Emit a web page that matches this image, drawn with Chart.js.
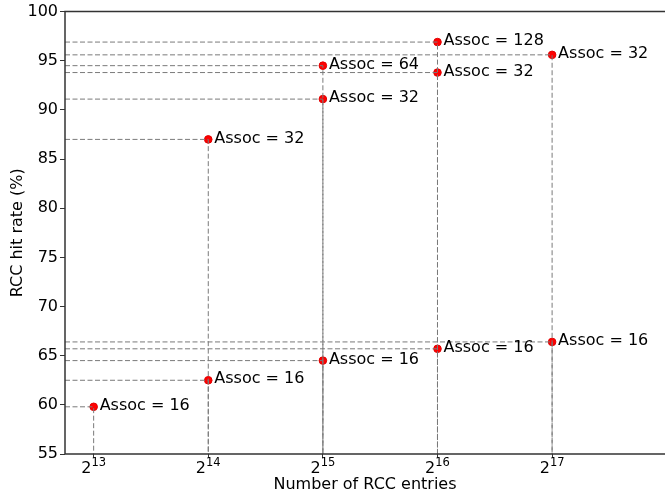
<!DOCTYPE html>
<html>
<head>
<meta charset="utf-8">
<script src="https://cdn.jsdelivr.net/npm/chart.js@4"></script>
<style>
  html, body { margin: 0; padding: 0; background: #fff; overflow: hidden; }
  canvas { display: block; }
</style>
</head>
<body>
<canvas id="rcc" width="665" height="494"></canvas>
<script>
// RCC size sweep: each point = (entries, hit rate, associativity)
const entries = [8192, 16384, 32768, 65536, 131072, 16384, 32768, 32768, 65536, 65536, 131072];
const hitRate = [59.8, 62.5, 64.5, 65.7, 66.4, 87.0, 91.1, 94.5, 96.9, 93.8, 95.6];
const assoc   = [16, 16, 16, 16, 16, 32, 32, 64, 128, 32, 32];
const xTicks  = [8192, 16384, 32768, 65536, 131072];
const yTicks  = [55, 60, 65, 70, 75, 80, 85, 90, 95, 100];

const X_MIN = Math.pow(2, 12.75), X_MAX = Math.pow(2, 17.985);
const Y_MIN = 55, Y_MAX = 100;

// dashed guide lines: from left edge to point, then down to the x axis
const guides = entries.map((x, i) => ({
  data: [{ x: X_MIN, y: hitRate[i] }, { x: x, y: hitRate[i] }, { x: x, y: Y_MIN }],
  borderColor: '#7a7a7a',
  borderWidth: 1,
  borderDash: [5, 2.5],
  pointRadius: 0,
  showLine: true,
  fill: false
}));

const points = {
  data: entries.map((x, i) => ({ x: x, y: hitRate[i] })),
  backgroundColor: '#ff0000',
  borderColor: '#e00000',
  borderWidth: 1,
  pointRadius: 3.8,
  showLine: false
};

const assocLabels = {
  id: 'assocLabels',
  afterDatasetsDraw(chart) {
    const { ctx, scales: { x, y } } = chart;
    ctx.save();
    ctx.font = '16px "DejaVu Sans"';
    ctx.fillStyle = '#000';
    ctx.textBaseline = 'middle';
    entries.forEach((e, i) => {
      ctx.fillText('Assoc = ' + assoc[i], x.getPixelForValue(e) + 6, y.getPixelForValue(hitRate[i]) - 1);
    });
    ctx.restore();
  }
};

// 2^n tick labels with a proper superscript, like mathtext
const powLabels = {
  id: 'powLabels',
  afterDraw(chart) {
    const { ctx, scales: { x }, chartArea: a } = chart;
    ctx.save();
    ctx.fillStyle = '#000';
    ctx.textBaseline = 'alphabetic';
    xTicks.forEach(v => {
      const exp = String(Math.round(Math.log2(v)));
      ctx.font = '16px "DejaVu Sans"';
      const wb = ctx.measureText('2').width;
      ctx.font = '11.5px "DejaVu Sans"';
      const we = ctx.measureText(exp).width;
      const left = x.getPixelForValue(v) - (wb + we) / 2;
      ctx.font = '16px "DejaVu Sans"';
      ctx.fillText('2', left, a.bottom + 19);
      ctx.font = '11.5px "DejaVu Sans"';
      ctx.fillText(exp, left + wb, a.bottom + 12);
    });
    ctx.restore();
  }
};

const frame = {
  id: 'frame',
  afterDraw(chart) {
    const { ctx, chartArea: a } = chart;
    ctx.save();
    ctx.strokeStyle = '#333';
    ctx.lineWidth = 1.5;
    ctx.beginPath();
    ctx.moveTo(a.left, a.bottom);
    ctx.lineTo(a.left, a.top);
    ctx.lineTo(a.right, a.top);
    ctx.moveTo(a.left, a.bottom);
    ctx.lineTo(a.right, a.bottom);
    ctx.stroke();
    ctx.restore();
  }
};

new Chart(document.getElementById('rcc'), {
  type: 'scatter',
  data: { datasets: [...guides, points] },
  options: {
    responsive: false,
    animation: false,
    layout: { autoPadding: false, padding: { top: 9, right: 0, left: 0, bottom: 0 } },
    plugins: { legend: { display: false }, tooltip: { enabled: false } },
    scales: {
      x: {
        type: 'logarithmic',
        min: X_MIN,
        max: X_MAX,
        bounds: 'data',
        afterBuildTicks: s => { s.ticks = xTicks.map(v => ({ value: v })); },
        afterFit: s => { s.height = 40; s.paddingLeft = 0; s.paddingRight = 0; },
        grid: { drawOnChartArea: false, drawTicks: true, tickLength: 4, color: '#333' },
        border: { display: false },
        ticks: {
          callback: () => '',
          maxRotation: 0,
          autoSkip: false
        },
        title: {
          display: true,
          text: 'Number of RCC entries',
          color: '#000',
          font: { family: 'DejaVu Sans', size: 16 },
          padding: { top: 0, bottom: 0 }
        }
      },
      y: {
        min: Y_MIN,
        max: Y_MAX,
        afterBuildTicks: s => { s.ticks = yTicks.map(v => ({ value: v })); },
        afterFit: s => { s.width = 65; },
        grid: { drawOnChartArea: false, drawTicks: true, tickLength: 5, color: '#333' },
        border: { display: false },
        ticks: {
          color: '#000',
          font: { family: 'DejaVu Sans', size: 16 },
          padding: 2
        },
        title: {
          display: true,
          text: 'RCC hit rate (%)',
          color: '#000',
          font: { family: 'DejaVu Sans', size: 16 },
          padding: { top: 8, bottom: 0 }
        }
      }
    }
  },
  plugins: [assocLabels, powLabels, frame]
});
</script>
</body>
</html>
